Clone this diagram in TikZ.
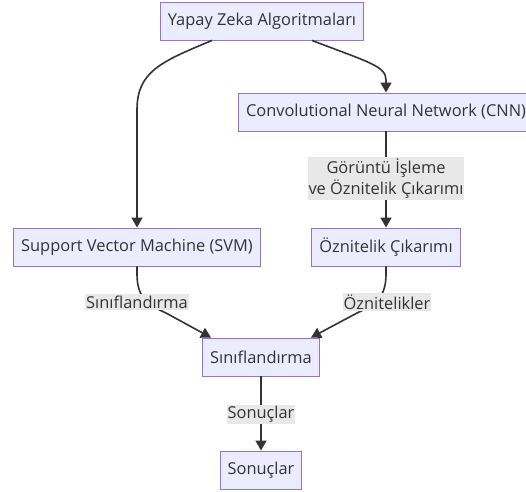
\documentclass[tikz,border=0pt]{standalone}
\usepackage{fontspec}
\setmainfont{Open Sans}
\usetikzlibrary{arrows.meta}
\definecolor{nodefill}{HTML}{ECECFF}
\definecolor{nodeline}{HTML}{9370DB}
\definecolor{ink}{HTML}{333333}
\definecolor{labelbg}{HTML}{E8E8E8}
\tikzset{
  box/.style={draw=nodeline, fill=nodefill, line width=0.9pt, text=ink,
    inner xsep=7.5pt, inner ysep=0pt, minimum height=38pt,
    font=\fontsize{16.4}{21}\selectfont},
  elabel/.style={fill=labelbg, text=ink, inner xsep=1pt, inner ysep=1.5pt,
    align=center, font=\fontsize{16.4}{21}\selectfont},
  edge/.style={draw=ink, line width=1.6pt,
    -{Triangle[length=10pt,width=11pt]}},
}
\begin{document}
\begin{tikzpicture}[x=1pt,y=-1pt]
\useasboundingbox (0,0) rectangle (526,491);
\fill[white] (0,0) rectangle (526,491);

% nodes
\node[box] (ai)   at (262,21)  {Yapay Zeka Algoritmaları};
\node[box] (cnn)  at (386,112) {Convolutional Neural Network (CNN)};
\node[box] (svm)  at (137,247) {Support Vector Machine (SVM)};
\node[box] (feat) at (386,247) {Öznitelik Çıkarımı};
\node[box] (cls)  at (261,357) {Sınıflandırma};
\node[box] (res)  at (261,470) {Sonuçlar};

% connectors
\draw[edge] ([xshift=-50pt]ai.south) .. controls (160,62) and (137,72) .. (137,110) -- (svm.north);
\draw[edge] ([xshift=50pt]ai.south) .. controls (368,62) and (386,66) .. (386,80) -- (cnn.north);
\draw[edge] (cnn.south) -- (feat.north);
\draw[edge] (svm.south) -- (137,274) .. controls (137,296) and (146,304) .. (166,313) -- ([xshift=-50pt]cls.north);
\draw[edge] (feat.south) -- (386,274) .. controls (386,296) and (377,304) .. (357,313) -- ([xshift=50pt]cls.north);
\draw[edge] (cls.south) -- (res.north);

% edge labels
\node[elabel] (l1) at (386,178.5) {Görüntü İşleme\\ve Öznitelik Çıkarımı};
\node[elabel] (l2) at (137,302) {Sınıflandırma};
\node[elabel] (l3) at (387,302) {Öznitelikler};
\node[elabel] (l4) at (261,414.5) {Sonuçlar};
\end{tikzpicture}
\end{document}
